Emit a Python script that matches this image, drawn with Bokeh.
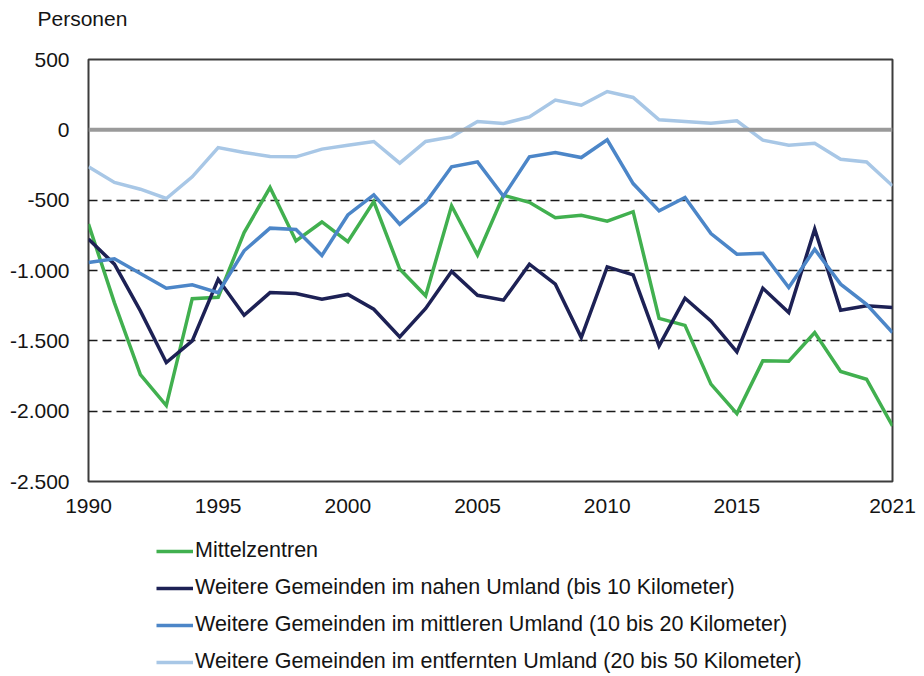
from bokeh.plotting import figure
from bokeh.layouts import column
from bokeh.models import Range1d, FixedTicker, Span, Legend, LegendItem, Title
from bokeh.embed import file_html
from bokeh.resources import INLINE

years = list(range(1990, 2022))
mittelzentren = [-670, -1230, -1740, -1960, -1200, -1190, -730, -410, -790, -655,
                 -795, -510, -990, -1180, -540, -890, -465, -515, -625, -608,
                 -650, -582, -1340, -1390, -1808, -2017, -1642, -1645, -1441, -1718,
                 -1773, -2105]
nahes_umland = [-777, -955, -1287, -1654, -1500, -1062, -1318, -1157, -1164, -1204,
                -1170, -1275, -1472, -1270, -1007, -1176, -1211, -955, -1097, -1477,
                -974, -1031, -1536, -1197, -1358, -1578, -1126, -1299, -706, -1282,
                -1251, -1263]
mittleres_umland = [-943, -917, -1021, -1126, -1102, -1157, -860, -699, -709, -893,
                    -605, -462, -671, -517, -263, -228, -472, -192, -161, -197,
                    -71, -382, -576, -481, -737, -884, -877, -1121, -849, -1097,
                    -1240, -1441]
entferntes_umland = [-263, -374, -422, -488, -334, -126, -161, -190, -192, -137,
                     -110, -83, -237, -83, -50, 59, 45, 92, 211, 175,
                     272, 230, 71, 59, 47, 64, -73, -109, -95, -209,
                     -228, -398]

series_names = [
    "Mittelzentren",
    "Weitere Gemeinden im nahen Umland (bis 10 Kilometer)",
    "Weitere Gemeinden im mittleren Umland (10 bis 20 Kilometer)",
    "Weitere Gemeinden im entfernten Umland (20 bis 50 Kilometer)",
]
series_values = [mittelzentren, nahes_umland, mittleres_umland, entferntes_umland]
series_colors = ["#41b04f", "#1d2155", "#4c86c8", "#a8c7e6"]

x_ticks = [1990, 1995, 2000, 2005, 2010, 2015, 2021]
y_ticks = [-2500, -2000, -1500, -1000, -500, 0, 500]
y_tick_labels = ["-2.500", "-2.000", "-1.500", "-1.000", "-500", "0", "500"]
grid_values = [-2000, -1500, -1000, -500]
y_title = "Personen"

FONT = "Liberation Sans"
TXT = "#141414"

W, H = 922, 674
H_MAIN = 530
H_LEG = H - H_MAIN

p = figure(width=W, height=H_MAIN, output_backend="svg", toolbar_location=None,
           x_range=Range1d(1990, 2021), y_range=Range1d(-2500, 500),
           min_border_left=88, min_border_right=W - 892, min_border_top=58,
           min_border_bottom=H_MAIN - 481)

# unit title (outer) and a spacer title next to the frame
p.title.text = y_title
p.title.align = "left"
p.title.offset = -51
p.title.standoff = 8
p.title.text_font = FONT
p.title.text_font_size = "21px"
p.title.text_color = TXT
p.title.text_font_style = "normal"
p.add_layout(Title(text=" ", text_font_size="2px", standoff=22), "above")

p.outline_line_color = "#3c3c3c"
p.outline_line_width = 2
p.background_fill_color = "white"
p.border_fill_color = "white"

p.xgrid.grid_line_color = None
p.ygrid.ticker = FixedTicker(ticks=grid_values)
p.ygrid.grid_line_color = "#1a1a1a"
p.ygrid.grid_line_dash = "9 5"
p.ygrid.grid_line_width = 1.5

zero = Span(location=0, dimension="width", line_color="#9a9a9a", line_width=4)
p.add_layout(zero)

for name, vals, col in zip(series_names, series_values, series_colors):
    p.line(years, vals, line_color=col, line_width=3.5, line_join="miter")

p.xaxis.ticker = FixedTicker(ticks=x_ticks)
p.yaxis.ticker = FixedTicker(ticks=y_ticks)
p.yaxis.major_label_overrides = {v: s for v, s in zip(y_ticks, y_tick_labels)}
for ax in (p.xaxis[0], p.yaxis[0]):
    ax.axis_line_color = None
    ax.major_tick_line_color = None
    ax.minor_tick_line_color = None
    ax.major_tick_out = 0
    ax.major_tick_in = 0
    ax.major_label_text_font = FONT
    ax.major_label_text_font_size = "21px"
    ax.major_label_text_color = TXT
p.xaxis.major_label_standoff = 17
p.yaxis.major_label_standoff = 19

# legend strip (series drawn outside its visible range; only the legend shows)
q = figure(width=W, height=H_LEG, output_backend="svg", toolbar_location=None,
           x_range=Range1d(0, 1), y_range=Range1d(0, 1),
           min_border=0, outline_line_color=None)
q.axis.visible = False
q.grid.grid_line_color = None
items = []
for name, vals, col in zip(series_names, series_values, series_colors):
    r = q.line(years, vals, line_color=col, line_width=3.5)
    items.append(LegendItem(label=name, renderers=[r]))
legend = Legend(items=items, location=(68, 0), orientation="vertical",
                glyph_width=37, glyph_height=24, label_height=24, spacing=12,
                label_standoff=2, padding=0, margin=0,
                label_text_font=FONT, label_text_font_size="21.5px",
                label_text_color=TXT, border_line_color=None,
                background_fill_alpha=0)
q.add_layout(legend)

layout = column(p, q, spacing=0)
open("out.html", "w").write(file_html(layout, INLINE))
